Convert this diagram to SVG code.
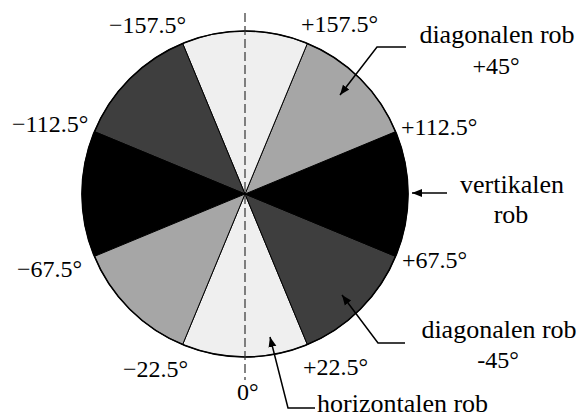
<svg xmlns="http://www.w3.org/2000/svg" width="579" height="417" viewBox="0 0 579 417">
<style>
.light{fill:#efefef}
.mid{fill:#a6a6a6}
.dark{fill:#3e3e3e}
.blk{fill:#000}
.sec{stroke:#000;stroke-width:1;stroke-linejoin:round}
text{font-family:'Liberation Serif','DejaVu Serif',serif;fill:#000}
.num{font-size:24px}
.lbl{font-size:26px}
.conn{fill:none;stroke:#000;stroke-width:1.5}
</style>
<defs>
<marker id="ah" viewBox="0 0 10 10" refX="10" refY="5" markerWidth="10" markerHeight="10" markerUnits="userSpaceOnUse" orient="auto">
<path d="M0,1 L10,5 L0,9 Z" fill="#000"/>
</marker>
</defs>
<g id="disc">
<path class="light sec" d="M245,194 L182.62,344.59 A163,163 0 0 0 307.38,344.59 Z"/>
<path class="dark sec" d="M245,194 L307.38,344.59 A163,163 0 0 0 395.59,256.38 Z"/>
<path class="blk sec" d="M245,194 L395.59,256.38 A163,163 0 0 0 395.59,131.62 Z"/>
<path class="mid sec" d="M245,194 L395.59,131.62 A163,163 0 0 0 307.38,43.41 Z"/>
<path class="light sec" d="M245,194 L307.38,43.41 A163,163 0 0 0 182.62,43.41 Z"/>
<path class="dark sec" d="M245,194 L182.62,43.41 A163,163 0 0 0 94.41,131.62 Z"/>
<path class="blk sec" d="M245,194 L94.41,131.62 A163,163 0 0 0 94.41,256.38 Z"/>
<path class="mid sec" d="M245,194 L94.41,256.38 A163,163 0 0 0 182.62,344.59 Z"/>
<circle cx="245" cy="194" r="163" fill="none" stroke="#000" stroke-width="1.6"/>
</g>
<g id="axis">
<line x1="245" y1="13" x2="245" y2="380" stroke="#333" stroke-width="1.2" stroke-dasharray="9,4"/>
</g>
<g id="angle-labels" font-family="Liberation Serif, serif">
<text class="num" x="109" y="33">−157.5°</text>
<text class="num" x="301" y="32">+157.5°</text>
<text class="num" x="12" y="132">−112.5°</text>
<text class="num" x="401" y="135">+112.5°</text>
<text class="num" x="17" y="277">−67.5°</text>
<text class="num" x="402" y="268">+67.5°</text>
<text class="num" x="123" y="377">−22.5°</text>
<text class="num" x="303" y="375">+22.5°</text>
<text class="num" x="237" y="400">0°</text>
</g>
<g id="label-diag-plus">
<text class="lbl" x="497" y="43" text-anchor="middle">diagonalen rob</text>
<text class="num" x="496" y="74" text-anchor="middle">+45°</text>
</g>
<g id="label-vert">
<text class="lbl" x="512" y="193" text-anchor="middle">vertikalen</text>
<text class="lbl" x="511" y="223" text-anchor="middle">rob</text>
</g>
<g id="label-diag-minus">
<text class="lbl" x="499" y="338" text-anchor="middle">diagonalen rob</text>
<text class="num" x="498" y="368" text-anchor="middle">-45°</text>
</g>
<g id="label-horiz">
<text class="lbl" x="317" y="412">horizontalen rob</text>
</g>
<g id="connectors">
<path class="conn" d="M406,47 L377,47 L340,95" marker-end="url(#ah)"/>
<path class="conn" d="M447,193 L412,193" marker-end="url(#ah)"/>
<path class="conn" d="M405,343 L378,343 L342,295" marker-end="url(#ah)"/>
<path class="conn" d="M315,408 L288,408 L270,337" marker-end="url(#ah)"/>
</g>
</svg>
